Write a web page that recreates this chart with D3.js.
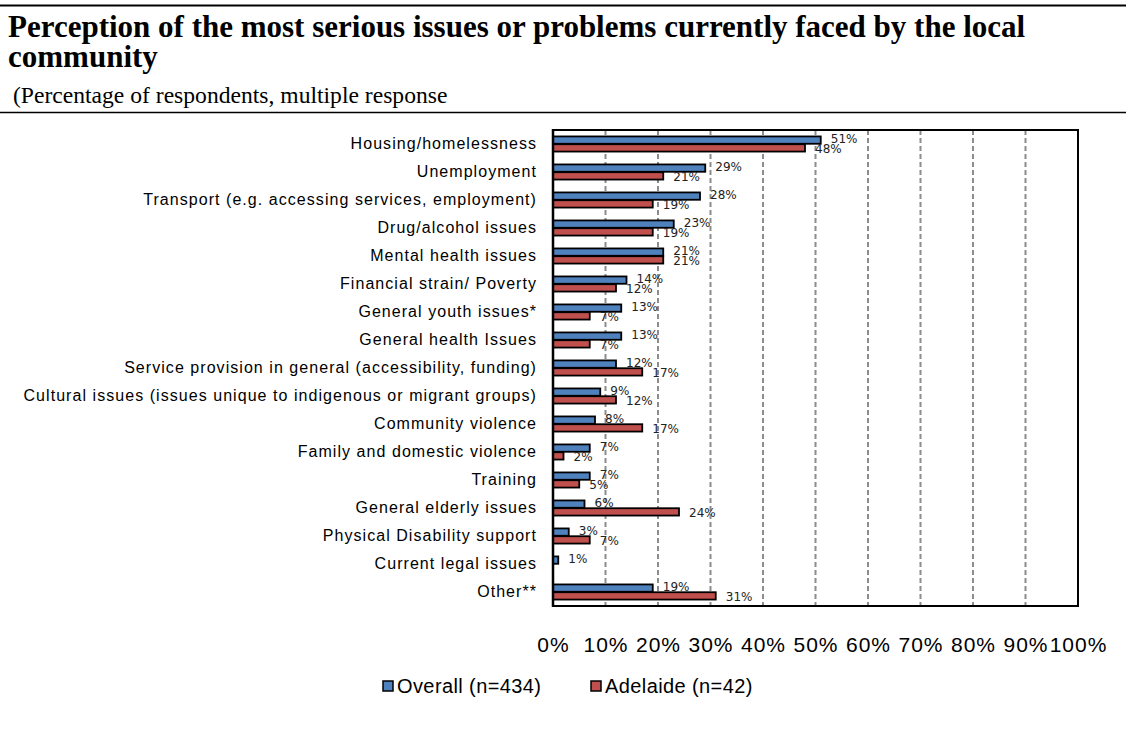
<!DOCTYPE html>
<html>
<head>
<meta charset="utf-8">
<script src="https://cdn.jsdelivr.net/npm/d3@7"></script>
<style>
  html, body { margin: 0; padding: 0; background: #fff; }
  svg { display: block; }
</style>
</head>
<body>
<svg id="chart" width="1126" height="737"></svg>
<script>
const categories = [
  "Housing/homelessness",
  "Unemployment",
  "Transport (e.g. accessing services, employment)",
  "Drug/alcohol issues",
  "Mental health issues",
  "Financial strain/ Poverty",
  "General youth issues*",
  "General health Issues",
  "Service provision in general (accessibility, funding)",
  "Cultural issues (issues unique to indigenous or migrant groups)",
  "Community violence",
  "Family and domestic violence",
  "Training",
  "General elderly issues",
  "Physical Disability support",
  "Current legal issues",
  "Other**"
];
const overallValues  = [51, 29, 28, 23, 21, 14, 13, 13, 12, 9, 8, 7, 7, 6, 3, 1, 19];
const adelaideValues = [48, 21, 19, 19, 21, 12, 7, 7, 17, 12, 17, 2, 5, 24, 7, null, 31];
const seriesNames = ["Overall (n=434)", "Adelaide (n=42)"];
const seriesColors = ["#4F81BD", "#C0504D"];
const tickValues = [0, 10, 20, 30, 40, 50, 60, 70, 80, 90, 100];

const svg = d3.select("#chart");

// header rules and titles
svg.append("line").attr("x1", 0).attr("x2", 1126).attr("y1", 5.5).attr("y2", 5.5)
  .attr("stroke", "#000").attr("stroke-width", 2);
svg.append("line").attr("x1", 0).attr("x2", 1126).attr("y1", 112.5).attr("y2", 112.5)
  .attr("stroke", "#000").attr("stroke-width", 1.5);

const titleFont = "'Liberation Serif', 'Times New Roman', serif";
svg.append("text").attr("x", 8).attr("y", 37)
  .attr("font-family", titleFont).attr("font-weight", "bold").attr("font-size", 31).attr("fill", "#000")
  .text("Perception of the most serious issues or problems currently faced by the local");
svg.append("text").attr("x", 8).attr("y", 67)
  .attr("font-family", titleFont).attr("font-weight", "bold").attr("font-size", 31).attr("fill", "#000")
  .text("community");

svg.append("text").attr("x", 13).attr("y", 103)
  .attr("font-family", titleFont)
  .attr("font-size", 23.6).attr("fill", "#000")
  .text("(Percentage of respondents, multiple response");

// scales
const x = d3.scaleLinear().domain([0, 100]).range([553, 1078]);
const y0 = d3.scaleBand().domain(categories).range([130, 606]).paddingInner(0.46).paddingOuter(0.23);
const y1 = d3.scaleBand().domain(seriesNames).range([0, y0.bandwidth()]).paddingInner(0.06);

// gridlines
const grid = svg.append("g");
grid.selectAll("line").data(tickValues.filter(d => d > 0 && d < 100)).join("line")
  .attr("x1", d => x(d)).attr("x2", d => x(d))
  .attr("y1", 130).attr("y2", 606)
  .attr("stroke", "#8c8c8c").attr("stroke-width", 2)
  .attr("stroke-dasharray", "5,3");

// plot border
svg.append("rect").attr("x", x(0)).attr("y", 130)
  .attr("width", x(100) - x(0)).attr("height", 476)
  .attr("fill", "none").attr("stroke", "#000").attr("stroke-width", 2);

// bars
const rows = categories.map((c, i) => ({ cat: c, vals: [overallValues[i], adelaideValues[i]] }));
const gRows = svg.append("g").selectAll("g").data(rows).join("g")
  .attr("transform", d => `translate(0,${y0(d.cat)})`);

gRows.selectAll("rect").data(d => d.vals.map((v, k) => ({ v, k })).filter(e => e.v != null)).join("rect")
  .attr("x", x(0))
  .attr("y", e => y1(seriesNames[e.k]))
  .attr("width", e => x(e.v) - x(0))
  .attr("height", y1.bandwidth())
  .attr("fill", e => seriesColors[e.k])
  .attr("stroke", "#000").attr("stroke-width", 1.8);

gRows.selectAll("text.val").data(d => d.vals.map((v, k) => ({ v, k })).filter(e => e.v != null)).join("text")
  .attr("class", "val")
  .attr("x", e => x(e.v) + 10)
  .attr("y", e => y1(seriesNames[e.k]) + y1.bandwidth() / 2 + (e.k === 0 ? -1 : 1))
  .attr("dy", "0.35em")
  .attr("font-family", "'DejaVu Sans', Verdana, sans-serif")
  .attr("font-size", 12).attr("fill", "#222")
  .text(e => e.v + "%");

// left axis line (thicker)
svg.append("line").attr("x1", x(0)).attr("x2", x(0)).attr("y1", 129).attr("y2", 607)
  .attr("stroke", "#000").attr("stroke-width", 2.5);

// category labels
const yAxis = d3.axisLeft(y0).tickSize(0).tickPadding(16);
const gy = svg.append("g").attr("transform", `translate(${x(0)},0)`).call(yAxis);
gy.select(".domain").remove();
gy.selectAll("text")
  .attr("font-family", "'Liberation Sans', Arial, sans-serif")
  .attr("font-size", 16).attr("fill", "#000")
  .style("letter-spacing", "1.05px");

// x tick labels
const xAxis = d3.axisBottom(x).tickValues(tickValues).tickSize(0).tickPadding(0)
  .tickFormat(d => d + "%");
const gx = svg.append("g").attr("transform", "translate(0,652)").call(xAxis);
gx.select(".domain").remove();
gx.selectAll("text")
  .attr("dy", 0)
  .attr("font-family", "'Liberation Sans', Arial, sans-serif")
  .attr("font-size", 21).attr("fill", "#000")
  .style("letter-spacing", "1px");

// legend
const legendX = [388, 596];
const lg = svg.append("g").selectAll("g").data(seriesNames).join("g")
  .attr("transform", (d, i) => `translate(${legendX[i]},686)`);
lg.append("rect").attr("x", -5).attr("y", -5).attr("width", 10).attr("height", 10)
  .attr("fill", (d, i) => seriesColors[i]).attr("stroke", "#000").attr("stroke-width", 1.5);
lg.append("text").attr("x", 9).attr("y", 0).attr("dy", "0.36em")
  .attr("font-family", "'Liberation Sans', Arial, sans-serif")
  .attr("font-size", 20).attr("fill", "#000")
  .style("letter-spacing", "0.4px")
  .text(d => d);
</script>
</body>
</html>
